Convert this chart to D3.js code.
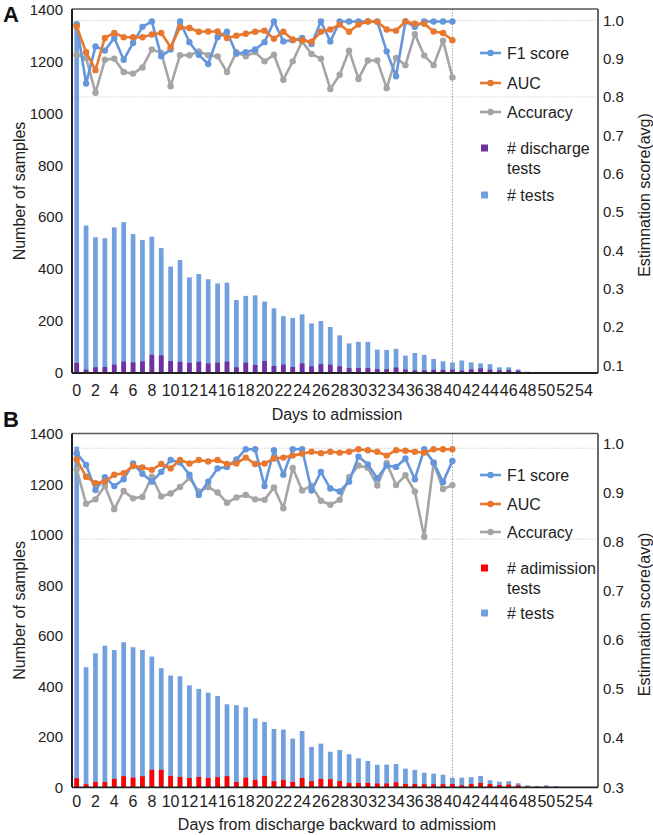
<!DOCTYPE html>
<html><head><meta charset="utf-8">
<script src="https://cdn.jsdelivr.net/npm/d3@7"></script>
<style>
html,body{margin:0;padding:0;background:#fff;}
svg{display:block;font-family:"Liberation Sans",Arial,sans-serif;}
</style></head>
<body><svg id="c" width="653" height="835"></svg>
<script>
// ---------- DATA ----------
const days = d3.range(0, 56);
const xTickLabels = d3.range(0, 56, 2);
const lineDays = d3.range(0, 41);
const leftTicks = [0, 200, 400, 600, 800, 1000, 1200, 1400];
const rightTicksA = [0.1, 0.2, 0.3, 0.4, 0.5, 0.6, 0.7, 0.8, 0.9, 1.0];
const rightTicksB = [0.3, 0.4, 0.5, 0.6, 0.7, 0.8, 0.9, 1.0];

const testsA = [1350,568,523,519,561,581,535,512,525,481,410,435,368,381,361,345,348,281,297,299,275,249,219,212,226,191,200,177,145,114,120,120,90,89,93,67,77,70,54,45,41,48,41,37,34,22,22,14,5,4,4,3,0,0,0,0];
const dischargeA = [39,13,22,23,32,44,41,45,70,68,46,43,39,43,37,40,44,22,40,31,46,27,32,23,37,26,34,32,26,19,19,19,15,15,21,13,10,10,12,12,13,9,14,18,13,10,12,9,2,2,2,1,0,0,0,0];
const f1A = [0.99,0.835,0.932,0.921,0.954,0.897,0.941,0.983,0.997,0.906,0.924,0.997,0.943,0.910,0.886,0.956,0.970,0.913,0.917,0.924,0.943,0.997,0.945,0.948,0.954,0.938,0.997,0.945,0.997,0.997,0.997,0.997,0.997,0.919,0.854,0.997,0.983,0.997,0.997,0.997,0.997];
const aucA = [0.984,0.917,0.870,0.954,0.967,0.956,0.956,0.956,0.963,0.967,0.930,0.982,0.980,0.970,0.971,0.971,0.954,0.960,0.965,0.970,0.973,0.952,0.970,0.950,0.948,0.944,0.970,0.976,0.989,0.970,0.989,0.997,0.996,0.976,0.973,0.997,0.991,0.991,0.971,0.967,0.948];
const accA = [0.910,0.902,0.811,0.897,0.900,0.865,0.861,0.877,0.924,0.915,0.828,0.909,0.909,0.919,0.909,0.906,0.865,0.917,0.906,0.917,0.893,0.910,0.845,0.893,0.945,0.912,0.900,0.821,0.858,0.921,0.847,0.895,0.895,0.823,0.902,0.883,0.964,0.908,0.883,0.947,0.851];

const testsB = [1350,476,531,561,544,575,555,544,518,472,443,440,404,390,375,362,329,325,317,273,259,231,229,193,223,160,173,141,148,131,115,104,89,90,92,74,69,58,54,50,38,38,40,45,28,22,24,16,8,5,8,5,0,0,0,0];
const admissionB = [36,12,21,21,33,44,38,44,69,69,45,41,37,41,37,40,44,21,38,29,45,24,29,21,37,24,33,32,25,17,17,17,15,15,20,13,13,12,12,12,13,8,13,17,13,9,11,8,2,2,2,1,0,0,0,0];
const f1B = [0.980,0.956,0.905,0.931,0.913,0.927,0.959,0.938,0.922,0.942,0.966,0.961,0.936,0.895,0.922,0.949,0.952,0.967,0.988,0.988,0.913,0.986,0.936,0.988,0.988,0.904,0.942,0.908,0.902,0.922,0.973,0.957,0.929,0.955,0.952,0.969,0.927,0.988,0.961,0.921,0.964];
const aucB = [0.967,0.932,0.919,0.922,0.936,0.939,0.954,0.951,0.946,0.958,0.949,0.966,0.959,0.966,0.963,0.966,0.958,0.959,0.971,0.958,0.959,0.969,0.971,0.975,0.979,0.983,0.980,0.983,0.981,0.983,0.988,0.986,0.983,0.975,0.986,0.985,0.983,0.981,0.988,0.988,0.988];
const accB = [0.947,0.877,0.886,0.913,0.866,0.903,0.888,0.891,0.932,0.892,0.898,0.911,0.930,0.902,0.911,0.900,0.879,0.890,0.895,0.886,0.885,0.910,0.868,0.950,0.904,0.914,0.883,0.875,0.885,0.931,0.955,0.950,0.914,0.960,0.915,0.935,0.902,0.810,0.960,0.907,0.915];

const lineNames = ["F1 score", "AUC", "Accuracy"];
const testsName = "# tests";

// ---------- STYLE / LAYOUT ----------
const colBlueLine = "#6496DB", colBar = "#729FDD", colOrange = "#E8782F", colGray = "#A5A5A5";
const svg = d3.select("#c");
const L = 72, R = 598;

const panels = [
  { letter: "A", top: 9, bottom: 373, rDomain: [0.08, 1.0295], rTicks: rightTicksA, grid: [1.0, 0.8],
    tests: testsA, sub: dischargeA, subName: ["# discharge", "tests"], subColor: "#7030A0",
    f1: f1A, auc: aucA, acc: accA, xTitle: "Days to admission", xTitleY: 420, tickY: 396,
    legY: [53, 83, 112, 148, 195], letterY: 22 },
  { letter: "B", top: 433.5, bottom: 787.3, rDomain: [0.3, 1.02], rTicks: rightTicksB, grid: [0.99, 0.805],
    tests: testsB, sub: admissionB, subName: ["# adimission", "tests"], subColor: "#FF0000",
    f1: f1B, auc: aucB, acc: accB, xTitle: "Days from discharge backward to admissiom", xTitleY: 830, tickY: 807,
    legY: [475, 504, 532, 568, 613], letterY: 427 }
];

const x = d3.scaleBand().domain(days).range([L, R]).paddingInner(0.5).paddingOuter(0.25);
const bw = x.bandwidth();
const cx = d => x(d) + bw / 2;

panels.forEach(p => {
  const g = svg.append("g");
  const yL = d3.scaleLinear().domain([0, 1400]).range([p.bottom, p.top + 0.5]);
  const yR = d3.scaleLinear().domain(p.rDomain).range([p.bottom, p.top]);

  g.selectAll(".grid").data(p.grid).join("line")
    .attr("x1", L).attr("x2", R).attr("y1", d => yR(d)).attr("y2", d => yR(d))
    .attr("stroke", "#D0D0D0").attr("stroke-width", 1).attr("stroke-dasharray", "1.5,1.5");

  g.append("line").attr("x1", cx(40)).attr("x2", cx(40)).attr("y1", p.top).attr("y2", p.bottom)
    .attr("stroke", "#A0A0A0").attr("stroke-width", 1).attr("stroke-dasharray", "1.5,1.5");

  g.selectAll(".bar").data(days).join("rect")
    .attr("x", d => x(d)).attr("width", bw)
    .attr("y", d => yL(p.tests[d])).attr("height", d => yL(0) - yL(p.tests[d]))
    .attr("fill", colBar);
  g.selectAll(".sub").data(days).join("rect")
    .attr("x", d => x(d)).attr("width", bw)
    .attr("y", d => yL(p.sub[d])).attr("height", d => yL(0) - yL(p.sub[d]))
    .attr("fill", p.subColor);

  g.append("line").attr("x1", L).attr("x2", R).attr("y1", p.top).attr("y2", p.top).attr("stroke", "#595959").attr("stroke-width", 1.5);
  g.append("line").attr("x1", R).attr("x2", R).attr("y1", p.top).attr("y2", p.bottom).attr("stroke", "#595959").attr("stroke-width", 1.8);
  g.append("line").attr("x1", L).attr("x2", R).attr("y1", p.bottom).attr("y2", p.bottom).attr("stroke", "#222").attr("stroke-width", 1.8);
  g.append("line").attr("x1", L).attr("x2", L).attr("y1", p.top).attr("y2", p.bottom).attr("stroke", "#222").attr("stroke-width", 2);

  const series = [[p.f1, colBlueLine], [p.auc, colOrange], [p.acc, colGray]];
  const lineGen = d3.line().x(d => cx(d[0])).y(d => yR(d[1]));
  [series[2], series[0], series[1]].forEach(([vals, col]) => {
    const pts = lineDays.map(d => [d, vals[d]]);
    g.append("path").datum(pts).attr("d", lineGen).attr("fill", "none")
      .attr("stroke", col).attr("stroke-width", 2.6).attr("stroke-linejoin", "round");
    g.selectAll(null).data(pts).join("circle")
      .attr("cx", d => cx(d[0])).attr("cy", d => yR(d[1])).attr("r", 3.2).attr("fill", col);
  });

  g.selectAll(".lt").data(leftTicks).join("text")
    .attr("x", 63).attr("y", d => yL(d)).attr("dy", "0.35em").attr("text-anchor", "end")
    .attr("font-size", 15).attr("fill", "#222").text(d => d);
  g.selectAll(".rt").data(p.rTicks).join("text")
    .attr("x", 603).attr("y", d => yR(d)).attr("dy", "0.35em").attr("text-anchor", "start")
    .attr("font-size", 15).attr("fill", "#222").text(d => d3.format(".1f")(d));
  g.selectAll(".xt").data(xTickLabels).join("text")
    .attr("x", d => cx(d)).attr("y", p.tickY).attr("text-anchor", "middle")
    .attr("font-size", 16).attr("fill", "#222").text(d => d);

  const midY = (p.top + p.bottom) / 2;
  g.append("text").attr("transform", `translate(25,${midY}) rotate(-90)`).attr("text-anchor", "middle")
    .attr("font-size", 16).attr("fill", "#222").text("Number of samples");
  g.append("text").attr("transform", `translate(650,${midY + 4}) rotate(-90)`).attr("text-anchor", "middle")
    .attr("font-size", 16).attr("fill", "#222").text("Estimnation score(avg)");
  g.append("text").attr("x", 337).attr("y", p.xTitleY).attr("text-anchor", "middle")
    .attr("font-size", 16).attr("fill", "#222").text(p.xTitle);
  g.append("text").attr("x", 3).attr("y", p.letterY).attr("font-size", 22).attr("font-weight", "bold")
    .attr("fill", "#111").text(p.letter);

  const lg = g.append("g");
  lineNames.forEach((name, i) => {
    const col = series[i][1];
    const yy = p.legY[i];
    lg.append("line").attr("x1", 480).attr("x2", 501).attr("y1", yy).attr("y2", yy).attr("stroke", col).attr("stroke-width", 2.6);
    lg.append("circle").attr("cx", 490.5).attr("cy", yy).attr("r", 3.2).attr("fill", col);
    lg.append("text").attr("x", 507).attr("y", yy).attr("dy", "0.35em").attr("font-size", 16).attr("fill", "#222").text(name);
  });
  lg.append("rect").attr("x", 481).attr("y", p.legY[3] - 3.5).attr("width", 7).attr("height", 7).attr("fill", p.subColor);
  lg.append("text").attr("x", 507).attr("y", p.legY[3]).attr("dy", "0.35em").attr("font-size", 16).attr("fill", "#222").text(p.subName[0]);
  lg.append("text").attr("x", 507).attr("y", p.legY[3] + 20).attr("dy", "0.35em").attr("font-size", 16).attr("fill", "#222").text(p.subName[1]);
  lg.append("rect").attr("x", 481).attr("y", p.legY[4] - 3.5).attr("width", 7).attr("height", 7).attr("fill", colBar);
  lg.append("text").attr("x", 507).attr("y", p.legY[4]).attr("dy", "0.35em").attr("font-size", 16).attr("fill", "#222").text(testsName);
});
</script></body></html>
